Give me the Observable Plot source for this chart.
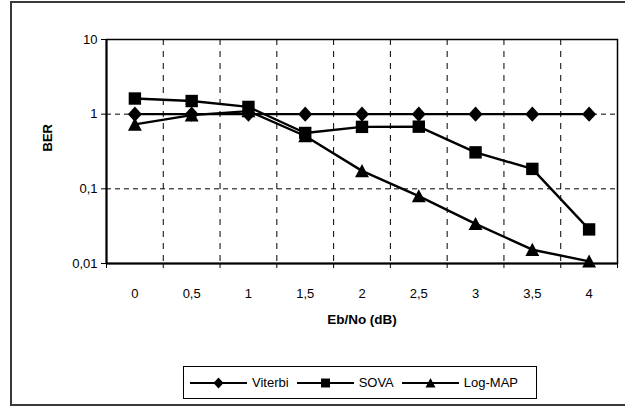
<!DOCTYPE html>
<html><head><meta charset="utf-8">
<script src="https://cdn.jsdelivr.net/npm/d3@7"></script>
<script src="https://cdn.jsdelivr.net/npm/@observablehq/plot@0.6"></script>
<style>
body{margin:0;background:#fff;font-family:"Liberation Sans",Arial,sans-serif;}
#wrap{position:relative;width:625px;height:407px;overflow:hidden;background:#fff}
#border{position:absolute;left:10px;top:1px;width:700px;height:405px;box-sizing:border-box;border:2px solid #3a3a3a;border-right:none;pointer-events:none}
#chart{position:absolute;left:0;top:0}
#legend{position:absolute;left:183px;top:366px;width:354px;height:33px;box-sizing:border-box;border:1px solid #000;background:#fff;display:flex;align-items:center;padding-left:6px;font-size:13px;color:#000}
.item{display:flex;align-items:center;margin-right:8px}
.item span{margin-left:5px;white-space:nowrap}
</style>
</head><body>
<div id="wrap"><div id="chart"></div><div id="border"></div><div id="legend"></div></div>
<script>
const ebno = [0, 0.5, 1, 1.5, 2, 2.5, 3, 3.5, 4];
const xTickLabels = ["0", "0,5", "1", "1,5", "2", "2,5", "3", "3,5", "4"];
const viterbi = [1, 1, 1, 1, 1, 1, 1, 1, 1];
const sova = [1.62, 1.5, 1.25, 0.56, 0.676, 0.68, 0.308, 0.185, 0.0286];
const logmap = [0.73, 0.97, 1.1, 0.51, 0.174, 0.080, 0.034, 0.0153, 0.0107];
const yTicks = [0.01, 0.1, 1, 10];
const yTickLabels = ["0,01", "0,1", "1", "10"];
const yGrid = [0.1, 1];
const seriesNames = ["Viterbi", "SOVA", "Log-MAP"];
const seriesValues = [viterbi, sova, logmap];

// marker shapes: size = PI * r^2, so r = sqrt(size / PI)
const diamondSym = {draw(ctx, size) { const r = Math.sqrt(size / Math.PI); ctx.moveTo(0, -r * 1.08); ctx.lineTo(r, 0); ctx.lineTo(0, r * 1.08); ctx.lineTo(-r, 0); ctx.closePath(); }};
const squareSym = {draw(ctx, size) { const r = Math.sqrt(size / Math.PI); ctx.rect(-r, -r, 2 * r, 2 * r); }};
const triangleSym = {draw(ctx, size) { const r = Math.sqrt(size / Math.PI); ctx.moveTo(0, -r * 1.05); ctx.lineTo(r * 1.05, r * 0.95); ctx.lineTo(-r * 1.05, r * 0.95); ctx.closePath(); }};
const seriesSymbols = [diamondSym, squareSym, triangleSym];
const symbolR = [7, 6.2, 6.6];

const half = 0.25;
const xDomain = [ebno[0] - half, ebno[ebno.length - 1] + half];
const bounds = [ebno[0] - half, ...ebno.map(d => d + half)];
const innerBounds = ebno.slice(0, -1).map(d => d + half);

const seriesMarks = [];
seriesValues.forEach((vals, s) => {
  const rows = ebno.map((x, i) => ({x, y: vals[i]}));
  seriesMarks.push(Plot.line(rows, {x: "x", y: "y", stroke: "black", strokeWidth: 2.4}));
  seriesMarks.push(Plot.dot(rows, {x: "x", y: "y", symbol: seriesSymbols[s], r: symbolR[s], fill: "black", stroke: "none"}));
});

const chart = Plot.plot({
  width: 625,
  height: 407,
  marginLeft: 106,
  marginRight: 8,
  marginTop: 39,
  marginBottom: 144,
  style: {fontFamily: "Liberation Sans, Arial, sans-serif", fontSize: "13px", color: "black", background: "transparent"},
  x: {type: "linear", domain: xDomain},
  y: {type: "log", domain: [0.01, 10]},
  marks: [
    Plot.ruleX(innerBounds, {stroke: "black", strokeWidth: 1, strokeDasharray: "6,6"}),
    Plot.ruleY(yGrid, {stroke: "black", strokeWidth: 1, strokeDasharray: "5,4"}),
    Plot.frame({stroke: "black", strokeWidth: 1.5}),
    Plot.ruleX([xDomain[0]], {stroke: "black", strokeWidth: 2}),
    Plot.ruleY([0.01], {stroke: "black", strokeWidth: 2}),
    Plot.axisY({ticks: yTicks, tickSize: 5, tickPadding: 4, tickFormat: d => yTickLabels[yTicks.indexOf(d)], label: null, fontSize: 13}),
    Plot.axisX({ticks: bounds, tickSize: 5, tickFormat: () => "", label: null}),
    Plot.axisX({ticks: ebno, tickSize: 0, tickPadding: 25, tickFormat: d => xTickLabels[ebno.indexOf(d)], label: null, fontSize: 13}),
    Plot.text(["Eb/No (dB)"], {text: d => d, frameAnchor: "bottom", dy: 60, fontWeight: "bold", fontSize: 13.5}),
    Plot.text(["BER"], {text: d => d, frameAnchor: "left", dx: -59, rotate: -90, fontWeight: "bold", fontSize: 13}),
    ...seriesMarks
  ]
});
document.getElementById("chart").appendChild(chart);

// legend
const legend = d3.select("#legend");
seriesNames.forEach((name, s) => {
  const item = legend.append("div").attr("class", "item");
  const svg = item.append("svg").attr("width", 57).attr("height", 16);
  svg.append("line").attr("x1", 0).attr("x2", 57).attr("y1", 8).attr("y2", 8).attr("stroke", "black").attr("stroke-width", 2);
  const k = 0.72;
  const sz = Math.PI * Math.pow(symbolR[s] * k, 2);
  svg.append("path").attr("d", d3.symbol(seriesSymbols[s], sz)())
    .attr("transform", "translate(28.5,8)").attr("fill", "black");
  item.append("span").text(name);
});
</script>
</body></html>
